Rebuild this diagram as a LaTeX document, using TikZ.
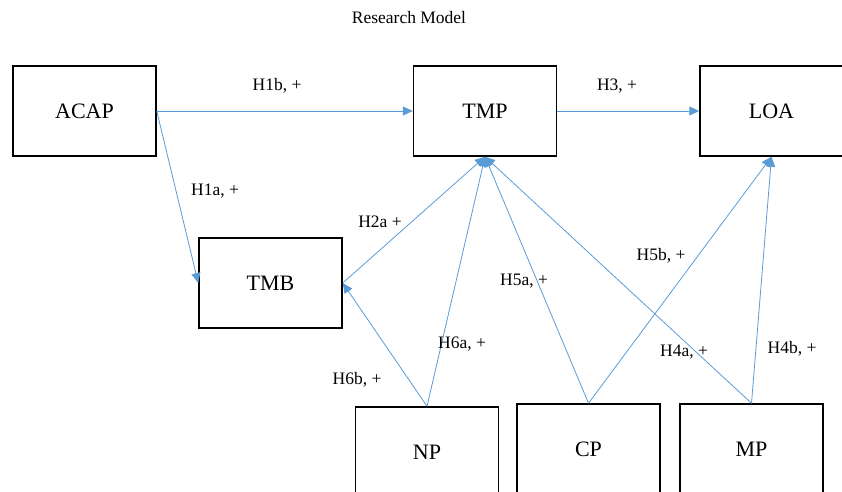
\documentclass[tikz,border=0pt]{standalone}
\usepackage{fontspec}
\setmainfont{Liberation Serif}
\usetikzlibrary{arrows.meta}
\definecolor{linkblue}{HTML}{5B9BD5}

\begin{document}
\begin{tikzpicture}[x=1pt,y=-1pt,
  box/.style={draw,line width=1.5pt,minimum width=143pt,minimum height=90pt,inner sep=0pt,font=\fontsize{22}{26}\selectfont},
  link/.style={linkblue,line width=0.8pt,-{Triangle[width=9pt,length=10pt]}},
  hyp/.style={font=\fontsize{17.5}{20}\selectfont,inner sep=0pt}]
\useasboundingbox (0,0) rectangle (842,491); % --- page size
\node[font=\fontsize{17.5}{20}\selectfont] (title) at (409,18) {Research Model};
%----- the boxes
\node[box] (acap) at (84.5,111) {ACAP};
\node[box] (tmp) at (485,111) {TMP};
\node[box] (loa) at (771.5,111) {LOA};
\node[box] (tmb) at (270.5,283) {TMB};
\node[box] (np) at (427,452) {NP};
\node[box] (cp) at (588.5,449) {CP};
\node[box] (mp) at (751.5,449) {MP};
%----- the hypotheses
\draw[link] (acap.east) -- (tmp.west);
\draw[link] (tmp.east) -- (loa.west);
\draw[link] (acap.east) -- (tmb.west);
\draw[link] (tmb.east) -- (tmp.south);
\draw[link] (np.north) -- (tmb.east);
\foreach \src in {np,cp,mp}{
\draw[link] (\src.north) -- (tmp.south); % into TMP
}
\foreach \src in {cp,mp}{
\draw[link] (\src.north) -- (loa.south); % into LOA
}
%----- labels
\node[hyp] (h1b) at (277,86) {H1b, +};
\node[hyp] (h3) at (617,86) {H3, +};
\node[hyp] (h1a) at (215,191) {H1a, +};
\node[hyp] (h2a) at (380,222) {H2a +};
\node[hyp] (h6b) at (357,380) {H6b, +};
\node[hyp] (h6a) at (462,344) {H6a, +};
\node[hyp] (h5a) at (524,281) {H5a, +};
\node[hyp] (h5b) at (661,256) {H5b, +};
\node[hyp] (h4a) at (684,352) {H4a, +};
\node[hyp] (h4b) at (792,349) {H4b, +};
\end{tikzpicture}
\end{document}
